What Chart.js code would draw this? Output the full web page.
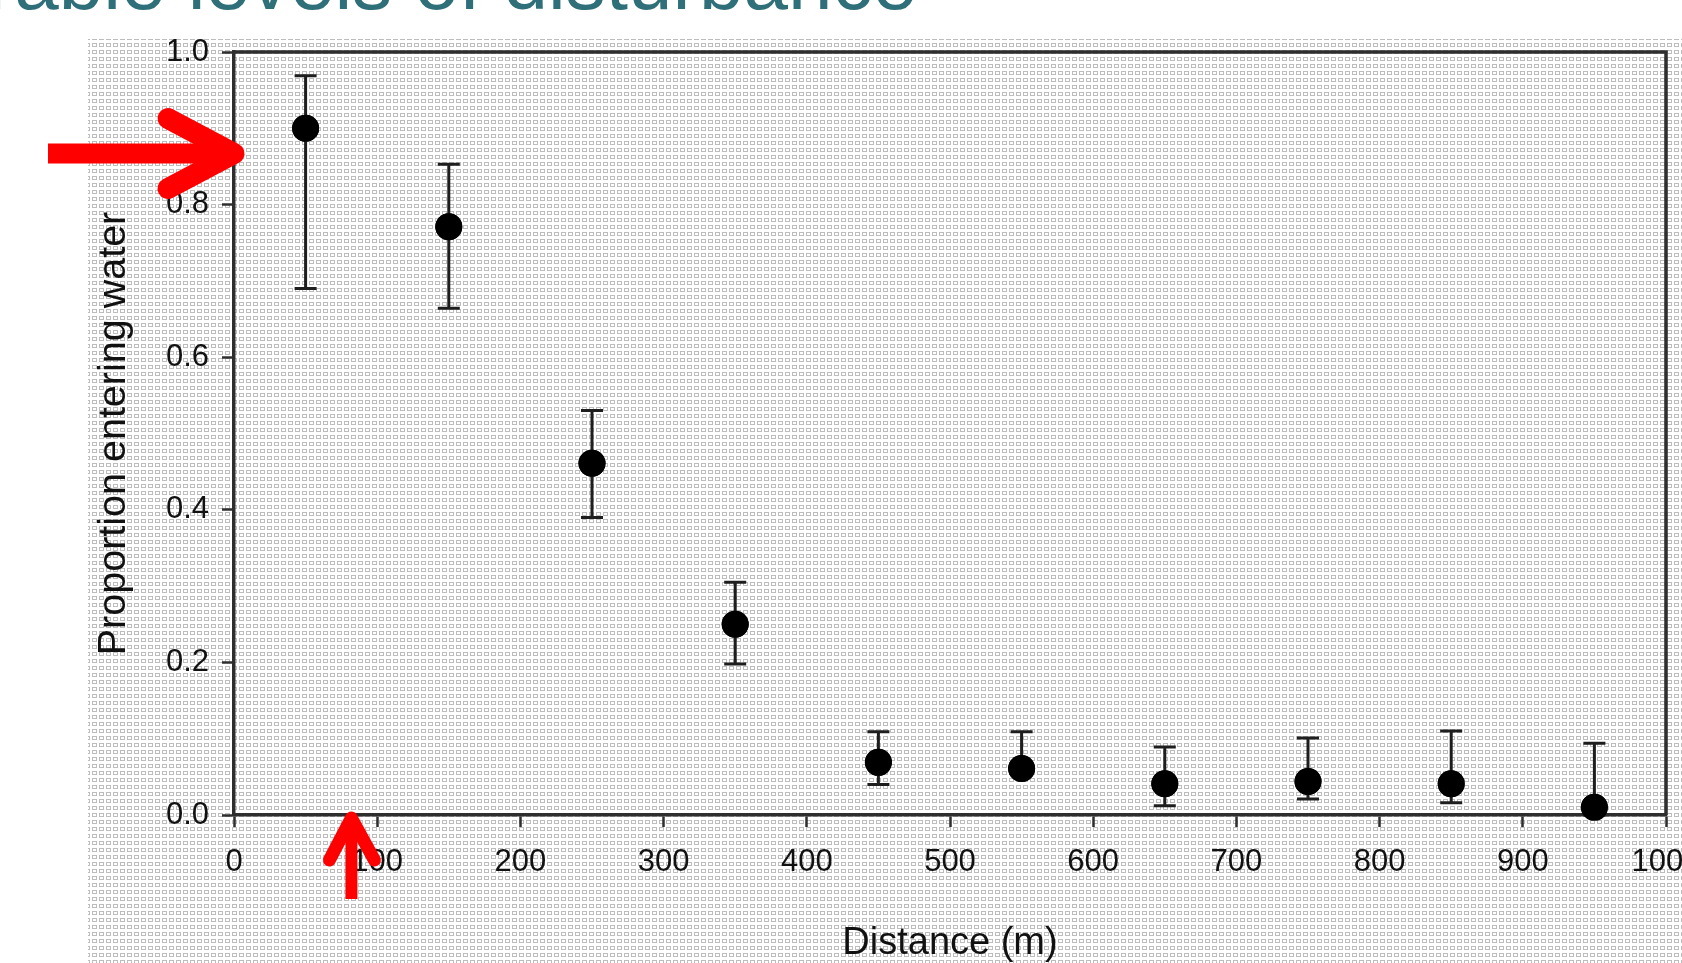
<!DOCTYPE html>
<html>
<head>
<meta charset="utf-8">
<script src="https://cdn.jsdelivr.net/npm/chart.js@4/dist/chart.umd.min.js"></script>
<style>
  html, body { margin: 0; padding: 0; background: #ffffff; overflow: hidden; }
  #wrap { position: relative; width: 1682px; height: 963px; }
  canvas { display: block; }
</style>
</head>
<body>
<div id="wrap"><canvas id="c" width="1682" height="963"></canvas></div>
<script>
// ---- data ----
const distance   = [50, 150, 250, 350, 450, 550, 650, 750, 850, 950];
const proportion = [0.900, 0.771, 0.461, 0.250, 0.069, 0.061, 0.041, 0.044, 0.041, 0.010];
const upperBar   = [0.969, 0.853, 0.530, 0.305, 0.109, 0.109, 0.089, 0.101, 0.110, 0.094];
const lowerBar   = [0.690, 0.664, 0.390, 0.198, 0.040, 0.053, 0.012, 0.021, 0.016, 0.000];
const xTicks = [0, 100, 200, 300, 400, 500, 600, 700, 800, 900, 1000];
const yTicks = [0.0, 0.2, 0.4, 0.6, 0.8, 1.0];
const titleText = "Tolerable levels of disturbance";
const xTitle = "Distance (m)";
const yTitle = "Proportion entering water";
// annotation arrows, anchored in data coordinates
const arrowTargets = [
  { x: 0,  y: 0.867, dir: "right" },
  { x: 82, y: -0.004, dir: "up" }
];

const FONT = "'Liberation Sans', Arial, Helvetica, sans-serif";
const AXIS = "#2e2e2e";

const points = distance.map((d, i) => ({ x: d, y: proportion[i] }));

const texturePlugin = {
  id: "texture",
  beforeDraw(chart) {
    const ctx = chart.ctx;
    const tile = document.createElement("canvas");
    tile.width = 7; tile.height = 7;
    const t = tile.getContext("2d");
    t.fillStyle = "#ffffff"; t.fillRect(0, 0, 7, 7);
    t.strokeStyle = "#bdbdbd"; t.lineWidth = 1;
    t.strokeRect(1.5, 1.5, 4, 3);
    const pat = ctx.createPattern(tile, "repeat");
    ctx.save();
    ctx.fillStyle = "#ffffff";
    ctx.fillRect(0, 0, chart.width, chart.height);
    ctx.fillStyle = pat;
    ctx.fillRect(88, 39, chart.width - 88, chart.height - 39);
    // cut-off title at the very top
    ctx.fillStyle = "#2f6f79";
    ctx.font = "80px " + FONT;
    ctx.textAlign = "right";
    ctx.textBaseline = "alphabetic";
    ctx.fillText(titleText, 917, 9);
    ctx.restore();
  }
};

const errorBarPlugin = {
  id: "errorBars",
  afterDatasetsDraw(chart) {
    const ctx = chart.ctx, xs = chart.scales.x, ys = chart.scales.y;
    ctx.save();
    ctx.strokeStyle = "#1e1e1e";
    ctx.lineWidth = 3;
    const cap = 11;
    distance.forEach((d, i) => {
      const px = xs.getPixelForValue(d);
      const pu = ys.getPixelForValue(upperBar[i]);
      const pl = ys.getPixelForValue(lowerBar[i]);
      ctx.beginPath();
      ctx.moveTo(px, pu); ctx.lineTo(px, pl);
      ctx.moveTo(px - cap, pu); ctx.lineTo(px + cap, pu);
      ctx.moveTo(px - cap, pl); ctx.lineTo(px + cap, pl);
      ctx.stroke();
    });
    ctx.restore();
    // redraw points on top of bars
    chart.getDatasetMeta(0).data.forEach(el => el.draw(ctx, chart.chartArea));
  },
  afterDraw(chart) {
    const ctx = chart.ctx, a = chart.chartArea;
    ctx.save();
    ctx.strokeStyle = AXIS;
    ctx.lineWidth = 3.5;
    ctx.beginPath();
    ctx.moveTo(a.left, a.top); ctx.lineTo(a.right, a.top); ctx.lineTo(a.right, a.bottom);
    ctx.stroke();
    // red annotation arrows
    const xs = chart.scales.x, ys = chart.scales.y;
    ctx.strokeStyle = "#ff0000";
    arrowTargets.forEach(t => {
      const tx = xs.getPixelForValue(t.x), ty = ys.getPixelForValue(t.y);
      if (t.dir === "right") {
        ctx.lineWidth = 20; ctx.lineCap = "butt";
        ctx.beginPath(); ctx.moveTo(48, ty); ctx.lineTo(tx - 8, ty); ctx.stroke();
        ctx.lineCap = "round"; ctx.lineJoin = "round";
        ctx.lineWidth = 21;
        ctx.beginPath();
        ctx.moveTo(tx - 66, ty - 35); ctx.lineTo(tx, ty); ctx.lineTo(tx - 66, ty + 35);
        ctx.stroke();
      } else {
        ctx.lineWidth = 12; ctx.lineCap = "butt";
        ctx.beginPath(); ctx.moveTo(tx, 899); ctx.lineTo(tx, ty + 6); ctx.stroke();
        ctx.lineWidth = 13; ctx.lineCap = "round"; ctx.lineJoin = "round";
        ctx.beginPath();
        ctx.moveTo(tx - 22, ty + 42); ctx.lineTo(tx, ty); ctx.lineTo(tx + 23, ty + 42);
        ctx.stroke();
      }
    });
    ctx.restore();
  }
};

new Chart(document.getElementById("c"), {
  type: "scatter",
  data: {
    datasets: [{
      label: "Proportion entering water",
      data: points,
      pointRadius: 13.5,
      pointHoverRadius: 13.5,
      pointBackgroundColor: "#000000",
      pointBorderColor: "#000000",
      pointBorderWidth: 0
    }]
  },
  options: {
    responsive: false,
    animation: false,
    events: [],
    layout: { padding: { top: 52, right: 16, left: 0, bottom: 0 } },
    plugins: { legend: { display: false }, tooltip: { enabled: false } },
    scales: {
      x: {
        type: "linear", min: 0, max: 1000,
        afterBuildTicks: s => { s.ticks = xTicks.map(v => ({ value: v })); },
        ticks: { color: "#111111", font: { family: FONT, size: 31 }, padding: 17, maxRotation: 0, autoSkip: false,
                 callback: v => String(v) },
        grid: { drawOnChartArea: false, drawTicks: true, tickLength: 12, tickColor: AXIS, tickWidth: 2.5 },
        border: { display: true, color: AXIS, width: 3.5 },
        title: { display: true, text: xTitle, color: "#111111", font: { family: FONT, size: 38 }, padding: { top: 0, bottom: -3 } },
        afterFit: s => { s.height = 148; s.paddingLeft = 0; s.paddingRight = 0; }
      },
      y: {
        type: "linear", min: 0, max: 1,
        afterBuildTicks: s => { s.ticks = yTicks.map(v => ({ value: v })); },
        ticks: { color: "#111111", font: { family: FONT, size: 31 }, padding: 13, autoSkip: false,
                 callback: v => Number(v).toFixed(1) },
        grid: { drawOnChartArea: false, drawTicks: true, tickLength: 12, tickColor: AXIS, tickWidth: 2.5 },
        border: { display: true, color: AXIS, width: 3.5 },
        title: { display: true, text: yTitle, color: "#111111", font: { family: FONT, size: 39.5 }, padding: { top: 90, bottom: 0 } },
        afterFit: s => { s.width = 234; s.paddingTop = 0; s.paddingBottom = 0; }
      }
    }
  },
  plugins: [texturePlugin, errorBarPlugin]
});
</script>
</body>
</html>
